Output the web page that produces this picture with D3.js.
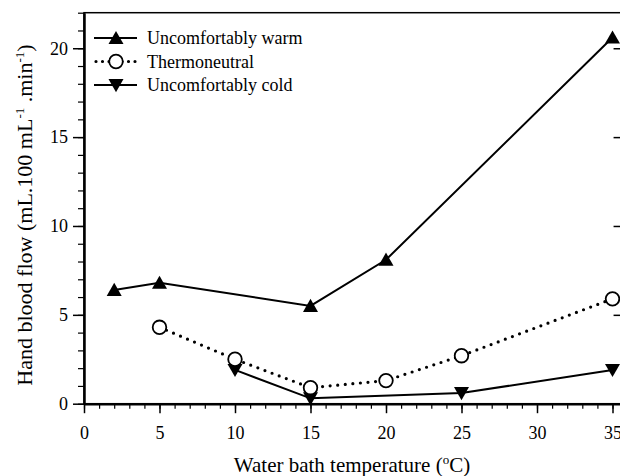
<!DOCTYPE html>
<html>
<head>
<meta charset="utf-8">
<script src="https://cdn.jsdelivr.net/npm/d3@7"></script>
<style>
  body { margin: 0; background: #fff; overflow: hidden; }
  svg text { font-family: "Liberation Serif", "Times New Roman", serif; fill: #000; }
</style>
</head>
<body>
<div id="chart"></div>
<script>
const width = 620;
const height = 476;
const margin = { top: 12.7, bottom: 72.3, left: 84 };
const pxPerDeg = 15.1;

const warmX = [2, 5, 15, 20, 35];
const warmY = [6.4, 6.8, 5.5, 8.1, 20.6];
const neutralX = [5, 10, 15, 20, 25, 35];
const neutralY = [4.3, 2.5, 0.9, 1.3, 2.7, 5.9];
const coldX = [10, 15, 25, 35];
const coldY = [1.9, 0.3, 0.6, 1.9];
const xTicks = [0, 5, 10, 15, 20, 25, 30, 35];
const yTicks = [0, 5, 10, 15, 20];
const legendLabels = ['Uncomfortably warm', 'Thermoneutral', 'Uncomfortably cold'];

const svg = d3.select('#chart')
  .append('svg')
  .attr('width', width)
  .attr('height', height);

// x axis runs a little past 35 and its right frame falls just outside the picture
const xMax = 35.6;
const x = d3.scaleLinear().domain([0, xMax]).range([margin.left, margin.left + xMax * pxPerDeg]);
const y = d3.scaleLinear().domain([0, 22]).range([height - margin.bottom, margin.top]);

// frame
svg.append('rect')
  .attr('x', x(0)).attr('y', y(22))
  .attr('width', x(xMax) - x(0)).attr('height', y(0) - y(22))
  .attr('fill', 'none').attr('stroke', '#000').attr('stroke-width', 1.5);

// minor ticks
svg.append('g')
  .attr('transform', `translate(0,${y(0)})`)
  .call(d3.axisBottom(x).tickValues(d3.range(0, 36, 1)).tickSize(5).tickFormat(''))
  .call(g => g.select('.domain').remove())
  .selectAll('line').attr('stroke-width', 1.2);
svg.append('g')
  .attr('transform', `translate(${x(0)},0)`)
  .call(d3.axisLeft(y).tickValues(d3.range(0, 23, 1)).tickSize(6).tickFormat(''))
  .call(g => g.select('.domain').remove())
  .selectAll('line').attr('stroke-width', 1.2);

// right side mirror ticks, pointing inward
svg.append('g')
  .attr('transform', `translate(${x(xMax)},0)`)
  .call(d3.axisLeft(y).tickValues(yTicks).tickSize(8).tickFormat(''))
  .call(g => g.select('.domain').remove())
  .selectAll('line').attr('stroke-width', 1.5);

// major ticks
const xAxis = svg.append('g')
  .attr('transform', `translate(0,${y(0)})`)
  .call(d3.axisBottom(x).tickValues(xTicks).tickSize(9.5).tickPadding(13).tickSizeOuter(0));
xAxis.select('.domain').attr('stroke-width', 2.5);
xAxis.selectAll('line').attr('stroke-width', 1.5);
xAxis.selectAll('text').style('font-size', '18px').style('font-family', '"Liberation Serif", serif');

const yAxis = svg.append('g')
  .attr('transform', `translate(${x(0)},0)`)
  .call(d3.axisLeft(y).tickValues(yTicks).tickSize(11).tickPadding(5).tickSizeOuter(0));
yAxis.select('.domain').attr('stroke-width', 2.5);
yAxis.selectAll('line').attr('stroke-width', 1.5);
yAxis.selectAll('text').style('font-size', '18px').style('font-family', '"Liberation Serif", serif');

// axis labels
const xl = svg.append('text')
  .attr('x', 352)
  .attr('y', 472)
  .attr('text-anchor', 'middle')
  .style('font-size', '21px');
xl.append('tspan').text('Water bath temperature (');
xl.append('tspan').text('o').attr('dy', -8).style('font-size', '13px');
xl.append('tspan').text('C)').attr('dy', 8);

const yl = svg.append('text')
  .attr('transform', 'translate(32,215) rotate(-90)')
  .attr('text-anchor', 'middle')
  .style('font-size', '22px');
yl.append('tspan').text('Hand blood flow (mL.100 mL');
yl.append('tspan').text('-1').attr('dy', -8).style('font-size', '13px');
yl.append('tspan').text(' .min').attr('dy', 8);
yl.append('tspan').text('-1').attr('dy', -8).style('font-size', '13px');
yl.append('tspan').text(')').attr('dy', 8);

// series
const line = d3.line().x(d => x(d[0])).y(d => y(d[1]));
const warm = warmX.map((v, i) => [v, warmY[i]]);
const neutral = neutralX.map((v, i) => [v, neutralY[i]]);
const cold = coldX.map((v, i) => [v, coldY[i]]);

const plot = svg.append('g');

plot.append('path').datum(warm).attr('d', line)
  .attr('fill', 'none').attr('stroke', '#000').attr('stroke-width', 2);
plot.append('path').datum(neutral).attr('d', line)
  .attr('fill', 'none').attr('stroke', '#000').attr('stroke-width', 3.2)
  .attr('stroke-dasharray', '0 7.6').attr('stroke-linecap', 'round');
plot.append('path').datum(cold).attr('d', line)
  .attr('fill', 'none').attr('stroke', '#000').attr('stroke-width', 2);

function downTri(s) {
  return `M${-s},${-s * 0.8}L${s},${-s * 0.8}L0,${s * 0.95}Z`;
}
function upTri(s) {
  return `M${-s},${s * 0.8}L${s},${s * 0.8}L0,${-s * 0.95}Z`;
}

plot.selectAll('.warm').data(warm).enter().append('path')
  .attr('d', upTri(7.5))
  .attr('transform', d => `translate(${x(d[0])},${y(d[1])})`)
  .attr('fill', '#000');
plot.selectAll('.cold').data(cold).enter().append('path')
  .attr('d', downTri(7.5))
  .attr('transform', d => `translate(${x(d[0])},${y(d[1])})`)
  .attr('fill', '#000');
plot.selectAll('.neutral').data(neutral).enter().append('circle')
  .attr('cx', d => x(d[0])).attr('cy', d => y(d[1])).attr('r', 6.8)
  .attr('fill', '#fff').attr('stroke', '#000').attr('stroke-width', 1.8);

// legend
const legend = svg.append('g');
const rows = [38, 61.5, 85];
legendLabels.forEach((lab, i) => {
  const g = legend.append('g').attr('transform', `translate(0,${rows[i]})`);
  const ln = g.append('line').attr('x1', 94).attr('x2', 137).attr('y1', 0).attr('y2', 0)
    .attr('stroke', '#000');
  if (i === 1) {
    ln.attr('stroke-width', 3.2).attr('stroke-dasharray', '0 6.5').attr('stroke-linecap', 'round')
      .attr('x1', 96).attr('x2', 138);
    g.append('circle').attr('cx', 116).attr('cy', 0).attr('r', 6.8)
      .attr('fill', '#fff').attr('stroke', '#000').attr('stroke-width', 1.8);
  } else {
    ln.attr('stroke-width', 2);
    g.append('path').attr('d', i === 0 ? upTri(7.5) : downTri(7.5))
      .attr('transform', 'translate(116,0)').attr('fill', '#000');
  }
  g.append('text').attr('x', 147).attr('y', 6).text(lab).style('font-size', '18px');
});
</script>
</body>
</html>
